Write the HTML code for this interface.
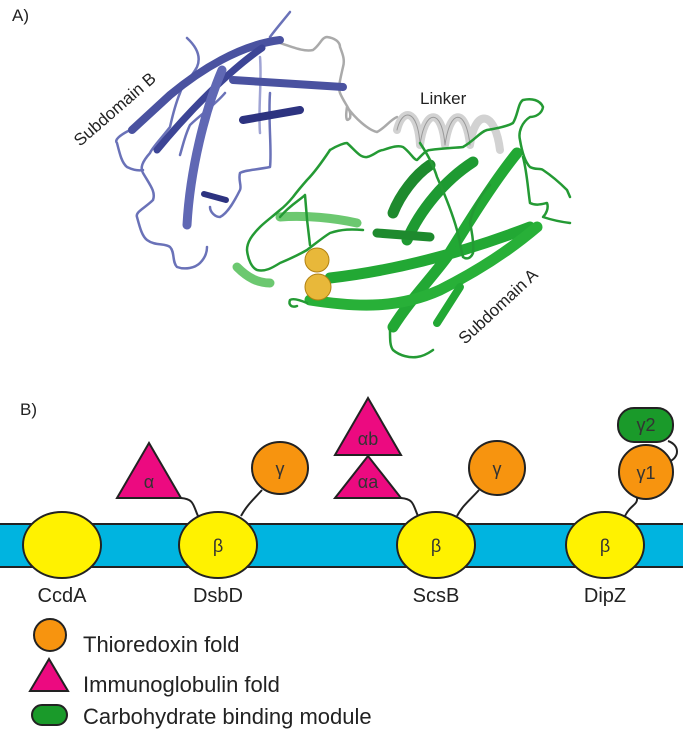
<!DOCTYPE html>
<html><head><meta charset="utf-8"><style>
body{margin:0;background:#fff;}
svg{display:block;font-family:"Liberation Sans",sans-serif;}
</style></head><body>
<svg width="683" height="730" viewBox="0 0 683 730" xmlns="http://www.w3.org/2000/svg">
<text x="12" y="21" font-size="17" fill="#222">A)</text>
<g fill="none" stroke-linecap="round" stroke-linejoin="round">
<g stroke="#6a72b8" stroke-width="2.5">
<path d="M290 12 C282 22 275 30 270 37"/>
<path d="M187 38 C200 50 200 60 197 67 C190 80 182 85 180 93 C175 105 172 118 170 127 C160 140 152 148 150 153 C142 162 140 168 143 173 C150 185 156 192 153 200 C145 208 135 212 137 217 C140 228 142 236 147 240 C155 246 165 243 170 247 C175 252 172 262 177 267 C185 270 195 268 200 263 C205 258 207 252 207 247"/>
<path d="M130 130 C120 135 114 140 117 143 C120 155 122 163 127 167 C133 170 138 171 143 170"/>
<path d="M270 93 C268 120 272 150 270 167 C255 170 245 170 240 173 C238 180 242 186 240 190 C235 200 228 213 220 217 C215 217 210 212 210 207"/>
<path d="M260 57 C262 80 258 110 260 133" stroke="#a0a4d4"/>
<path d="M225 93 C215 105 200 115 190 125 C185 135 183 145 180 155"/>
</g>
<path d="M280 43 C295 48 305 52 313 50 C320 45 322 37 327 37 C335 38 340 42 340 47 C343 55 345 60 343 67 C340 80 338 88 340 93 C345 105 352 110 350 118 C347 122 345 120 347 107 C355 118 368 130 377 132 C385 128 390 120 397 117" stroke="#aaa" stroke-width="2.5"/>
<path d="M280 40 C240 45 200 70 170 95 L132 130" stroke="#4a52a0" stroke-width="8"/>
<path d="M262 48 C230 70 190 110 157 150" stroke="#3d4596" stroke-width="7"/>
<path d="M222 70 C205 110 190 170 187 225" stroke="#6068b4" stroke-width="9"/>
<path d="M343 87 L233 80" stroke="#4a52a0" stroke-width="8"/>
<path d="M300 110 L243 120" stroke="#2d3380" stroke-width="8"/>
<path d="M204 194 L226 200" stroke="#2d3380" stroke-width="6"/>
<path d="M397 130 C402 108 418 108 420 145 C425 108 442 108 445 145 C450 108 466 108 470 145 C475 108 495 110 500 150" stroke="#d2d2d2" stroke-width="8"/>
<path d="M397 130 C402 108 418 108 420 145 C425 108 442 108 445 145 C450 108 466 108 470 145" stroke="#999" stroke-width="1"/>
<path d="M280 217 C305 215 335 218 357 223" stroke="#6cc870" stroke-width="9"/>
<path d="M237 267 C248 278 258 283 270 283" stroke="#6cc870" stroke-width="9"/>
<path d="M393 213 C400 195 415 175 430 165" stroke="#1e8a2e" stroke-width="11"/>
<path d="M407 240 C420 210 445 180 473 162" stroke="#1e9a32" stroke-width="11"/>
<path d="M393 327 C410 300 430 280 447 257 C470 220 495 180 517 153" stroke="#22a834" stroke-width="11"/>
<path d="M377 233 L430 237" stroke="#1e8a2e" stroke-width="9"/>
<path d="M330 278 C400 270 470 250 530 227" stroke="#22a834" stroke-width="11"/>
<path d="M310 300 C360 308 400 308 440 290 C480 270 510 250 537 227" stroke="#28b038" stroke-width="11"/>
<path d="M460 287 L437 323" stroke="#22a834" stroke-width="8"/>
<g stroke="#249a34" stroke-width="2.5">
<path d="M330 150 C338 145 345 143 347 143 C355 150 360 158 367 157 C375 155 378 150 383 150 C392 147 398 145 403 147 C410 152 414 160 417 160 C422 155 426 150 430 150 C445 148 455 148 463 147 C475 140 480 132 487 130 C500 128 508 126 513 123 C518 115 518 103 523 100 C532 98 540 100 543 107 C542 114 535 117 530 117 C522 122 518 132 520 140 C522 152 525 162 530 167 C535 170 540 168 543 170 C555 178 562 185 567 190 L570 197"/>
<path d="M330 150 C320 165 312 175 307 180 C300 188 296 193 293 197 C288 203 284 207 280 210 C272 217 265 222 260 227 C252 235 247 242 247 250 C248 260 252 268 257 270 C265 272 272 268 280 263 C292 258 300 254 307 250 C315 244 322 238 330 233 C342 229 352 229 363 230"/>
<path d="M307 303 C300 300 293 298 290 300 C288 305 292 308 297 306"/>
<path d="M390 330 C390 340 390 346 393 350 C400 356 410 358 417 357 C425 356 430 352 433 350"/>
<path d="M420 143 C428 155 434 167 437 177 C445 195 452 212 457 230 C460 240 461 250 463 257 C467 260 471 258 473 253 C474 243 472 232 470 223 C472 210 480 195 490 185"/>
<path d="M523 157 C527 172 528 190 530 203 C536 206 542 204 547 203 C549 208 546 214 543 217 C552 220 562 222 570 223"/>
<path d="M280 217 C290 205 300 200 305 195 C306 210 308 230 310 245"/>
</g>
</g>
<circle cx="317" cy="260" r="12" fill="#e8b83a" stroke="#b08010"/>
<circle cx="318" cy="287" r="13" fill="#e8b83a" stroke="#b08010"/>
<text x="0" y="0" font-size="17" fill="#222" transform="translate(80 147) rotate(-41)">Subdomain B</text>
<text x="420" y="104" font-size="17" fill="#222">Linker</text>
<text x="0" y="0" font-size="17" fill="#222" transform="translate(465 345) rotate(-43)">Subdomain A</text>

<text x="20" y="415" font-size="17" fill="#222">B)</text>
<rect x="-2" y="524" width="690" height="43" fill="#00b4e0" stroke="#222" stroke-width="2"/>
<g fill="none" stroke="#222" stroke-width="2">
<path d="M181 498 C194 499 193 505 198 516"/>
<path d="M241 516 C247 505 253 500 262 490"/>
<path d="M401 498 C414 499 413 505 418 516"/>
<path d="M457 516 C463 505 470 500 479 490"/>
<path d="M625 516 C630 505 638 505 637 498"/>
<path d="M668 441 C680 445 680 458 668 462"/>
</g>
<g fill="#fff200" stroke="#222" stroke-width="2">
<ellipse cx="62" cy="545" rx="39" ry="33"/>
<ellipse cx="218" cy="545" rx="39" ry="33"/>
<ellipse cx="436" cy="545" rx="39" ry="33"/>
<ellipse cx="605" cy="545" rx="39" ry="33"/>
</g>
<g fill="#ec0a80" stroke="#222" stroke-width="2">
<polygon points="149,443 117,498 181,498"/>
<polygon points="368,456 335,498 401,498"/>
<polygon points="368,398 335,455 401,455"/>
</g>
<g fill="#f7940f" stroke="#222" stroke-width="2">
<ellipse cx="280" cy="468" rx="28" ry="26"/>
<ellipse cx="497" cy="468" rx="28" ry="27"/>
<ellipse cx="646" cy="472" rx="27" ry="27"/>
</g>
<rect x="618" y="408" width="55" height="34" rx="16" fill="#1a9a2a" stroke="#222" stroke-width="2"/>
<g font-size="18" fill="#333" text-anchor="middle">
<text x="218" y="552">β</text><text x="436" y="552">β</text><text x="605" y="552">β</text>
<text x="149" y="488">α</text>
<text x="368" y="488">αa</text>
<text x="368" y="445">αb</text>
<text x="280" y="475">γ</text>
<text x="497" y="475">γ</text>
<text x="646" y="479">γ1</text>
<text x="646" y="431">γ2</text>
</g>
<g font-size="20" fill="#222" text-anchor="middle">
<text x="62" y="602">CcdA</text>
<text x="218" y="602">DsbD</text>
<text x="436" y="602">ScsB</text>
<text x="605" y="602">DipZ</text>
</g>
<circle cx="50" cy="635" r="16" fill="#f7940f" stroke="#222" stroke-width="2"/>
<polygon points="49,659 30,691 68,691" fill="#ec0a80" stroke="#222" stroke-width="2"/>
<rect x="32" y="705" width="35" height="20" rx="10" fill="#1a9a2a" stroke="#222" stroke-width="2"/>
<g font-size="22" fill="#222">
<text x="83" y="652">Thioredoxin fold</text>
<text x="83" y="692">Immunoglobulin fold</text>
<text x="83" y="724">Carbohydrate binding module</text>
</g>
</svg>
</body></html>
